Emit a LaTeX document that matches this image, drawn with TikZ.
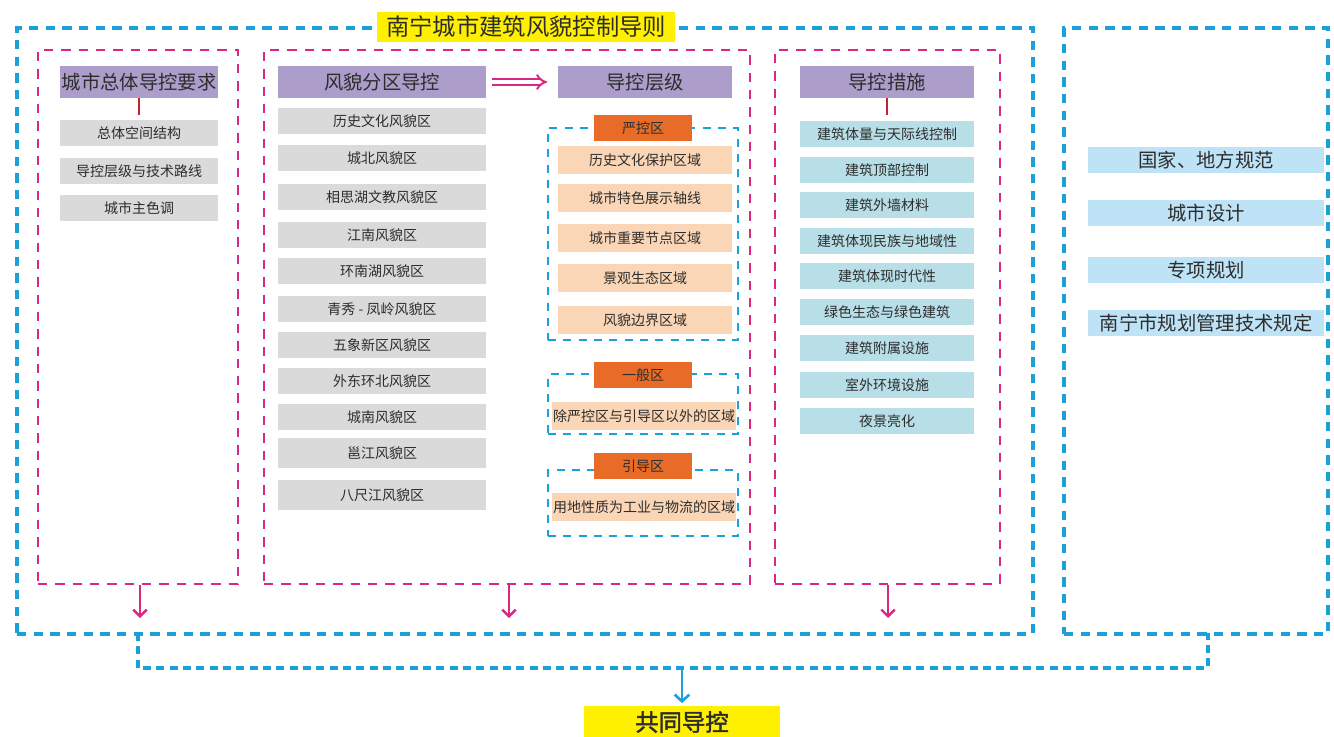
\documentclass[tikz,border=0pt]{standalone}
\usepackage{fontspec}
\setmainfont{Noto Sans CJK SC}
\newfontfamily\boldcjk[FakeBold=2]{Noto Sans CJK SC}
\usetikzlibrary{arrows.meta}
\definecolor{dashblue}{RGB}{28,160,218}
\definecolor{dashpink}{RGB}{218,40,130}
\definecolor{headpurple}{RGB}{172,157,202}
\definecolor{itemgray}{RGB}{218,218,218}
\definecolor{levelorange}{RGB}{232,108,40}
\definecolor{areapeach}{RGB}{251,214,182}
\definecolor{measureblue}{RGB}{184,222,232}
\definecolor{normblue}{RGB}{190,226,246}
\definecolor{titleyellow}{RGB}{255,240,0}
\definecolor{linkred}{RGB}{195,35,45}
\definecolor{textgray}{RGB}{45,45,45}
\tikzset{
  outer box/.style={draw=dashblue,line width=2.3pt,dash pattern=on 7pt off 5.5pt},
  zone box/.style={draw=dashpink,line width=1.5pt,dash pattern=on 7pt off 6pt},
  level box/.style={draw=dashblue,line width=1.6pt,dash pattern=on 6pt off 5.5pt},
  head node/.style={fill=headpurple,text=textgray,font=\fontsize{14.5}{16}\selectfont,
    minimum height=24pt,inner sep=0pt},
  item node/.style={text=textgray,font=\fontsize{10.5}{12}\selectfont,
    minimum height=20pt,inner sep=0pt},
  gray node/.style={item node,fill=itemgray},
  peach node/.style={item node,fill=areapeach,minimum height=21pt},
  measure node/.style={item node,fill=measureblue,minimum width=130.5pt},
  level node/.style={item node,fill=levelorange,minimum width=73.5pt,minimum height=19pt},
  norm node/.style={fill=normblue,text=textgray,font=\fontsize{14.5}{16}\selectfont,
    minimum width=177pt,minimum height=20pt,inner sep=0pt},
  title node/.style={fill=titleyellow,text=textgray,inner sep=0pt}
}
\begin{document}
\begin{tikzpicture}[x=0.75pt,y=-0.75pt]
  \useasboundingbox (0,0) rectangle (1334,736);
  % outer frames
  \node[outer box,minimum width=762pt,minimum height=454.5pt,inner sep=0pt] (guide) at (525,331) {};
  \node[outer box,minimum width=198pt,minimum height=454.5pt,inner sep=0pt] (norms) at (1196,331) {};
  \node[title node,minimum width=223.5pt,minimum height=22.5pt,font=\fontsize{17.5}{19}\selectfont] (title) at (526,27) {南宁城市建筑风貌控制导则};
  % zones
  \node[zone box,minimum width=150pt,minimum height=400.5pt,inner sep=0pt] (zoneA) at (138,317) {};
  \node[zone box,minimum width=364.5pt,minimum height=400.5pt,inner sep=0pt] (zoneB) at (507,317) {};
  \node[zone box,minimum width=168.75pt,minimum height=400.5pt,inner sep=0pt] (zoneC) at (887.5,317) {};
  % headers
  \node[head node,minimum width=118.5pt] (hdrA) at (139,82) {城市总体导控要求};
  \node[head node,minimum width=156pt] (hdrB) at (382,82) {风貌分区导控};
  \node[head node,minimum width=130.5pt] (hdrC) at (645,82) {导控层级};
  \node[head node,minimum width=130.5pt] (hdrD) at (887,82) {导控措施};
  \draw[dashpink,line width=1.5pt,double distance=2.4pt,-{Implies[length=7pt,width=14pt]},shorten <=4.5pt,shorten >=8pt] (hdrB) -- (hdrC);
  % overall requirements
  \foreach \y/\t [count=\i] in {133/总体空间结构,171/导控层级与技术路线,208/城市主色调}
    \node[gray node,minimum width=118.5pt,minimum height=19pt] (a\i) at (139,\y) {\t};
  \draw[linkred,line width=1.5pt,shorten >=4pt] (hdrA) -- (a1);
  % zone list
  \foreach \y/\h/\t [count=\i] in {121/20/历史文化风貌区,158/20/城北风貌区,197/20/相思湖文教风貌区,
      235/20/江南风貌区,271/20/环南湖风貌区,309/20/青秀 - 凤岭风貌区,345/20/五象新区风貌区,
      381/20/外东环北风貌区,417/20/城南风貌区,453/22.5/邕江风貌区,495/23/八尺江风貌区}
    \node[gray node,minimum width=156pt,minimum height=\h pt] (b\i) at (382,\y) {\t};
  % levels
  \node[level box,minimum width=142.5pt,minimum height=159pt,inner sep=0pt] (strict) at (643,234) {};
  \node[level box,minimum width=142.5pt,minimum height=45pt,inner sep=0pt] (general) at (643,404) {};
  \node[level box,minimum width=142.5pt,minimum height=49.5pt,inner sep=0pt] (guided) at (643,503) {};
  \node[level node] (l1) at (643,128) {严控区};
  \node[level node] (l2) at (643,375) {一般区};
  \node[level node] (l3) at (643,466) {引导区};
  \foreach \y/\t [count=\i] in {160/历史文化保护区域,198/城市特色展示轴线,238/城市重要节点区域,
      278/景观生态区域,320/风貌边界区域}
    \node[peach node,minimum width=130.5pt] (c\i) at (645,\y) {\t};
  \node[peach node,minimum width=138pt] (c6) at (644,416) {除严控区与引导区以外的区域};
  \node[peach node,minimum width=138pt] (c7) at (644,507) {用地性质为工业与物流的区域};
  % measures
  \foreach \y/\t [count=\i] in {134/建筑体量与天际线控制,170/建筑顶部控制,205/建筑外墙材料,
      241/建筑体现民族与地域性,276/建筑体现时代性,312/绿色生态与绿色建筑,348/建筑附属设施,
      385/室外环境设施,421/夜景亮化}
    \node[measure node] (d\i) at (887,\y) {\t};
  \draw[linkred,line width=1.5pt,shorten >=4pt] (hdrD) -- (d1);
  % norms
  \foreach \y/\t [count=\i] in {160/国家、地方规范,213/城市设计,270/专项规划,323/南宁市规划管理技术规定}
    \node[norm node] (n\i) at (1206,\y) {\t};
  % joint control
  \node[title node,minimum width=147pt,minimum height=24pt,font=\boldcjk\fontsize{17.5}{19}\selectfont] (joint) at (682,722) {共同导控};
  \coordinate (endA) at (140,618);
  \coordinate (endB) at (509,618);
  \coordinate (endC) at (888,618);
  \foreach \z/\e in {zoneA/endA,zoneB/endB,zoneC/endC}
    \draw[dashpink,line width=1.1pt,-{Straight Barb[length=5pt,width=10pt,line width=1.8pt]}] (\z.south -| \e) -- (\e);
  \coordinate (bl) at (138,633);
  \coordinate (br) at (1208,633);
  \coordinate (bm) at (682,668);
  \draw[dashblue,line width=2.3pt,dash pattern=on 6pt off 4pt] (bl) -- (bl |- bm) -- (br |- bm) -- (br);
  \draw[dashblue,line width=2pt,-{Straight Barb[length=5pt,width=11pt]},shorten >=2pt] (bm) -- (joint);
\end{tikzpicture}
\end{document}
